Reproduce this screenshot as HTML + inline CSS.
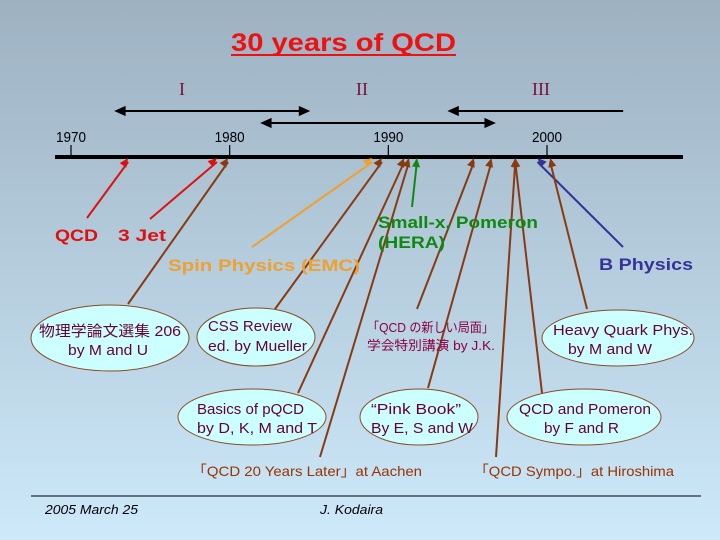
<!DOCTYPE html>
<html><head><meta charset="utf-8"><style>
html,body{margin:0;padding:0;width:720px;height:540px;overflow:hidden}
svg{display:block}
text{font-family:"Liberation Sans","Noto Sans CJK JP",sans-serif}
</style></head><body>
<svg id="s" width="720" height="540" xmlns="http://www.w3.org/2000/svg">
<defs>
<linearGradient id="bg" x1="0" y1="0" x2="0" y2="1"><stop offset="0" stop-color="#9db1c1"/><stop offset="1" stop-color="#cde9fa"/></linearGradient>
</defs>
<rect width="720" height="540" fill="url(#bg)"/>
<text x="231" y="51" textLength="225" lengthAdjust="spacingAndGlyphs" font-size="25" font-weight="bold" fill="#ee1111">30 years of QCD</text>
<line x1="231" y1="55" x2="456" y2="55" stroke="#ee1111" stroke-width="2"/>
<g font-size="18" fill="#7a0f3a" text-anchor="middle">
<text x="182" y="95" style="font-family:'Liberation Serif',serif">I</text>
<text x="362" y="95" style="font-family:'Liberation Serif',serif">II</text>
<text x="541" y="95" style="font-family:'Liberation Serif',serif">III</text>
</g>
<g id="eras" stroke="#000" stroke-width="2" fill="#000"></g>
<line x1="55" y1="157" x2="683" y2="157" stroke="#000" stroke-width="4"/>
<g id="ticks"></g>
<g id="arrows"></g>
<g font-weight="bold" font-size="17" lengthAdjust="spacingAndGlyphs">
<text x="55" y="241" textLength="43" lengthAdjust="spacingAndGlyphs" fill="#dd1111">QCD</text>
<text x="118" y="241" textLength="48" lengthAdjust="spacingAndGlyphs" fill="#dd1111">3 Jet</text>
<text x="168" y="271" textLength="192" lengthAdjust="spacingAndGlyphs" fill="#eea030">Spin Physics (EMC)</text>
<text x="378" y="228" textLength="160" lengthAdjust="spacingAndGlyphs" fill="#118811">Small-x, Pomeron</text>
<text x="378" y="248" textLength="67" lengthAdjust="spacingAndGlyphs" fill="#118811">(HERA)</text>
<text x="599" y="270" textLength="94" lengthAdjust="spacingAndGlyphs" fill="#333399">B Physics</text>
</g>
<g fill="#ccffff" stroke="#8a4a20" stroke-width="1">
<ellipse cx="110" cy="338" rx="79" ry="33"/>
<ellipse cx="256" cy="337" rx="59" ry="29"/>
<ellipse cx="618" cy="338" rx="76" ry="28"/>
<ellipse cx="252" cy="417" rx="74" ry="28"/>
<ellipse cx="419" cy="417" rx="59" ry="28"/>
<ellipse cx="584" cy="417" rx="77" ry="28"/>
</g>
<g font-size="15" fill="#660033">
<text x="39" y="336" textLength="142" lengthAdjust="spacingAndGlyphs">物理学論文選集 206</text>
<text x="68" y="355" textLength="80" lengthAdjust="spacingAndGlyphs">by M and U</text>
<text x="208" y="331" textLength="84" lengthAdjust="spacingAndGlyphs">CSS Review</text>
<text x="208" y="351" textLength="99" lengthAdjust="spacingAndGlyphs">ed. by Mueller</text>
<text x="553" y="335" textLength="140" lengthAdjust="spacingAndGlyphs">Heavy Quark Phys.</text>
<text x="568" y="354" textLength="84" lengthAdjust="spacingAndGlyphs">by M and W</text>
<text x="197" y="414" textLength="107" lengthAdjust="spacingAndGlyphs">Basics of pQCD</text>
<text x="197" y="433" textLength="120" lengthAdjust="spacingAndGlyphs">by D, K, M and T</text>
<text x="371" y="414" textLength="90" lengthAdjust="spacingAndGlyphs">“Pink Book”</text>
<text x="371" y="433" textLength="102" lengthAdjust="spacingAndGlyphs">By E, S and W</text>
<text x="519" y="414" textLength="132" lengthAdjust="spacingAndGlyphs">QCD and Pomeron</text>
<text x="544" y="433" textLength="75" lengthAdjust="spacingAndGlyphs">by F and R</text>
</g>
<g font-size="13" fill="#880044">
<text x="367" y="332" textLength="127" lengthAdjust="spacingAndGlyphs">「QCD の新しい局面」</text>
<text x="367" y="350" textLength="128" lengthAdjust="spacingAndGlyphs">学会特別講演 by J.K.</text>
</g>
<g font-size="14" fill="#993300">
<text x="192" y="476" textLength="230" lengthAdjust="spacingAndGlyphs">「QCD 20 Years Later」at Aachen</text>
<text x="474" y="476" textLength="200" lengthAdjust="spacingAndGlyphs">「QCD Sympo.」at Hiroshima</text>
</g>
<line x1="31" y1="496" x2="701" y2="496" stroke="#000" stroke-width="1"/>
<text x="45" y="514" textLength="93" lengthAdjust="spacingAndGlyphs" font-size="13" font-style="italic" fill="#000">2005 March 25</text>
<text x="320" y="514" textLength="63" lengthAdjust="spacingAndGlyphs" font-size="13" font-style="italic" fill="#000">J. Kodaira</text>
</svg>
<script>
const tickYears=[1970,1980,1990,2000];
const eventYears=[1973.6,1979.2,1979.9,1989.0,1989.6,1991.0,1991.3,1991.8,1995.4,1996.5,1998.0,1998.0,1999.4,2000.2];
const eventColors=["#dd1111","#dd1111","#8a3a10","#eea030","#8a3a10","#8a3a10","#8a3a10","#118811","#8a3a10","#8a3a10","#8a3a10","#8a3a10","#333399","#8a3a10"];
const eventSources=[[87,218],[150,219],[128,304],[252,247],[275,309],[298,393],[320,457],[412,207],[417,309],[428,388],[542,393],[496,457],[623,247],[587,309]];
const eventNames=["qcd","three-jet","butsurigaku","spin-physics","css-review","basics-pqcd","aachen","hera","qcd-new-phase","pink-book","qcd-pomeron","hiroshima","b-physics","heavy-quark"];
const eraStart=[1973.0,1982.2,1994.0];
const eraEnd=[1984.8,1996.5,2004.8];
const eraRow=[111,123,111];
const eraLeftHead=[true,true,true];
const eraRightHead=[true,true,false];
const NS="http://www.w3.org/2000/svg";
function xOf(y){return 71+(y-1970)*(547-71)/30;}
const TY=157;
function mk(t,a,p){const e=document.createElementNS(NS,t);for(const k in a)e.setAttribute(k,a[k]);p.appendChild(e);return e;}
const tg=document.getElementById('ticks');
tickYears.forEach(y=>{
 const l=mk('line',{x1:xOf(y),x2:xOf(y),y1:145,y2:157,stroke:'#000','stroke-width':1.2},tg);
 
 
 const t=mk('text',{x:xOf(y),y:142,'text-anchor':'middle','font-size':15,fill:'#000',textLength:30,lengthAdjust:'spacingAndGlyphs'},tg);
 t.textContent=y;
 
 
});
function head(g,x,y,ang,col,size){
 const a=size||8,w=a*0.45;
 const c=Math.cos(ang),s=Math.sin(ang);
 const p=[[x,y],[x-a*c+w*s,y-a*s-w*c],[x-a*c-w*s,y-a*s+w*c]];
 return mk('polygon',{points:p.map(q=>q.join(',')).join(' '),fill:col},g);
}
const eg=document.getElementById('eras');
eraStart.forEach((s,i)=>{
 const x1=xOf(s),x2=xOf(eraEnd[i]),y=eraRow[i];
 const l=mk('line',{x1:x1,x2:x2,y1:y,y2:y,stroke:'#000','stroke-width':2},eg);
 
 
 if(eraLeftHead[i])head(eg,x1-2,y,Math.PI,'#000',8);
 if(eraRightHead[i])head(eg,x2+2,y,0,'#000',8);
});
const ag=document.getElementById('arrows');
eventYears.forEach((yr,i)=>{
 const tx=xOf(yr),ty=TY+1,[sx,sy]=eventSources[i];
 const col=eventColors[i];
 const l=mk('line',{x1:sx,y1:sy,x2:tx,y2:ty+4,stroke:col,'stroke-width':2},ag);
 
 
 head(ag,tx,ty,Math.atan2(ty-sy,tx-sx),col,9);
});
</script>
</body></html>
